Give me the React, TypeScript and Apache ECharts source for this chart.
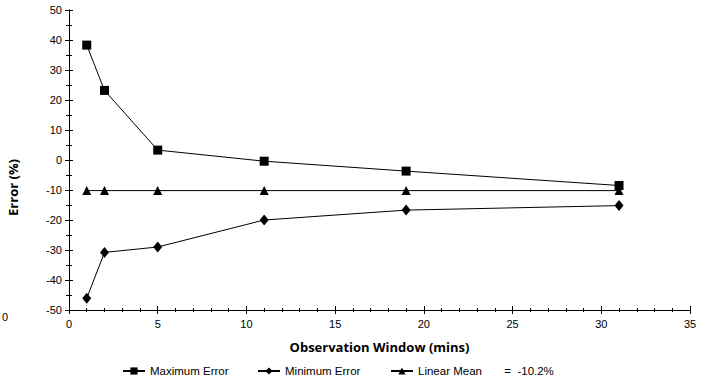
import React, { useEffect, useRef } from "react";
import * as echarts from "echarts";

const windows = [1, 2, 5, 11, 19, 31];
const maxError = [38.3, 23.2, 3.3, -0.4, -3.7, -8.5];
const minError = [-46.1, -30.8, -29.0, -20.0, -16.7, -15.2];
const linearMean = [-10.2, -10.2, -10.2, -10.2, -10.2, -10.2];
const meanLabel = "-10.2%";
const seriesNames = ["Maximum Error", "Minimum Error", "Linear Mean"];

const font = "Liberation Sans";

export default function App() {
  const ref = useRef<HTMLDivElement>(null);
  useEffect(() => {
    const chart = echarts.init(ref.current!, undefined, { renderer: "svg" });
    const pair = (ys: number[]) => windows.map((x, i) => [x, ys[i]]);
    const axisLine = { show: true, onZero: false, lineStyle: { color: "#000", width: 1 } };
    const xBase = {
      type: "value",
      min: 0,
      max: 35,
      interval: 5,
      splitLine: { show: false },
      axisLine,
    };
    const yBase = {
      type: "value",
      min: -50,
      max: 50,
      interval: 10,
      splitLine: { show: false },
      axisLine,
    };
    const legendText = { color: "#000", fontFamily: font, fontSize: 11.5 };
    const legendAt = (name: string, left: number) => ({
      left,
      top: 365,
      itemWidth: 22,
      itemHeight: 9,
      itemGap: 0,
      padding: 0,
      textStyle: legendText,
      formatter: (n: string) => (n === "Linear Mean" ? `${n}       =  ${meanLabel}` : n),
      data: [name],
    });
    chart.setOption({
      animation: false,
      grid: { left: 69, right: 17, top: 10, bottom: 70 },
      xAxis: [
        {
          ...xBase,
          position: "bottom",
          axisTick: { show: true, length: 4, lineStyle: { color: "#000" } },
          minorTick: { show: true, splitNumber: 5, length: 2, lineStyle: { color: "#000" } },
          axisLabel: { color: "#000", fontFamily: font, fontSize: 11, margin: 8 },
          name: "Observation Window (mins)",
          nameLocation: "middle",
          nameGap: 30,
          nameTextStyle: { color: "#000", fontFamily: "Open Sans", fontWeight: "bold", fontSize: 13 },
        },
        {
          ...xBase,
          position: "bottom",
          axisTick: { show: true, inside: true, length: 4, lineStyle: { color: "#000" } },
          minorTick: { show: true, splitNumber: 5, length: 2, lineStyle: { color: "#000" } },
          axisLabel: { show: false },
        },
      ],
      yAxis: [
        {
          ...yBase,
          position: "left",
          axisTick: { show: true, length: 4, lineStyle: { color: "#000" } },
          minorTick: { show: true, splitNumber: 2, length: 3, lineStyle: { color: "#000" } },
          axisLabel: { color: "#000", fontFamily: font, fontSize: 11, margin: 7 },
        },
        {
          ...yBase,
          position: "left",
          axisTick: { show: true, inside: true, length: 4, lineStyle: { color: "#000" } },
          minorTick: { show: true, splitNumber: 2, length: 3, lineStyle: { color: "#000" } },
          axisLabel: { show: false },
        },
      ],
      legend: [
        legendAt(seriesNames[0], 122),
        legendAt(seriesNames[1], 257),
        legendAt(seriesNames[2], 390),
      ],
      graphic: [
        {
          type: "text",
          left: 2,
          top: 311,
          style: { text: "0", fill: "#000", font: `11px "${font}"` },
        },
        {
          type: "text",
          left: 6,
          top: 159,
          rotation: Math.PI / 2,
          style: {
            text: "Error (%)",
            fill: "#000",
            font: `bold 13px "Open Sans"`,
          },
        },
      ],
      series: [
        {
          name: seriesNames[0],
          type: "line",
          data: pair(maxError),
          symbol: "rect",
          symbolSize: 9,
          itemStyle: { color: "#000" },
          lineStyle: { color: "#000", width: 1 },
        },
        {
          name: seriesNames[1],
          type: "line",
          data: pair(minError),
          symbol: "diamond",
          symbolSize: [9, 11],
          itemStyle: { color: "#000" },
          lineStyle: { color: "#000", width: 1 },
        },
        {
          name: seriesNames[2],
          type: "line",
          data: pair(linearMean),
          symbol: "triangle",
          symbolSize: 9,
          itemStyle: { color: "#000" },
          lineStyle: { color: "#000", width: 1 },
        },
      ],
    });
    return () => chart.dispose();
  }, []);
  return <div ref={ref} style={{ width: 707, height: 380, position: "absolute", left: 0, top: 0 }} />;
}
